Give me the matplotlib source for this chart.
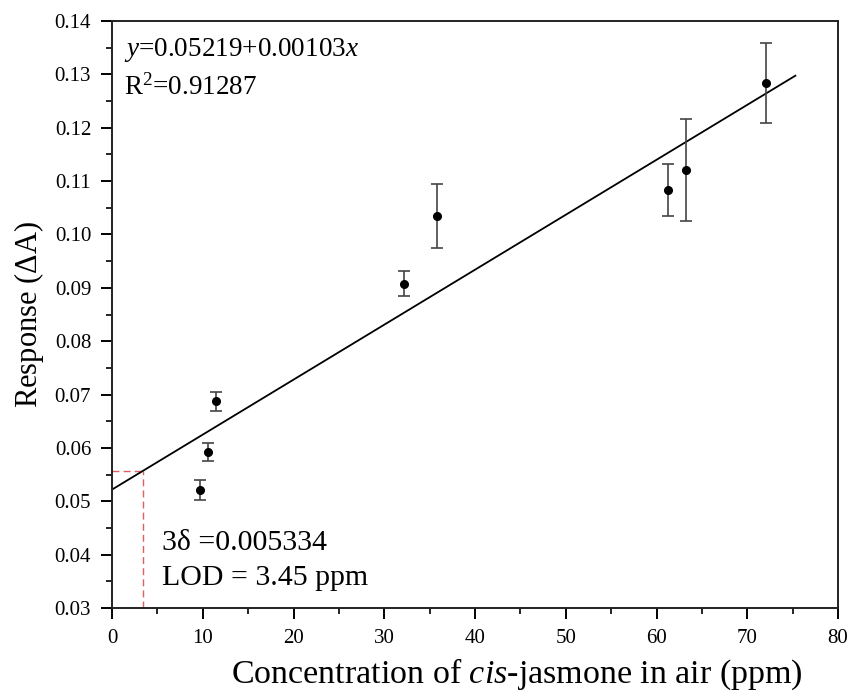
import matplotlib
matplotlib.use("Agg")
import matplotlib.pyplot as plt
import numpy as np
from matplotlib.ticker import MultipleLocator

plt.rcParams['font.family'] = ['Liberation Serif', 'DejaVu Serif']
plt.rcParams['mathtext.fontset'] = 'custom'
plt.rcParams['mathtext.rm'] = 'Liberation Serif'
plt.rcParams['mathtext.it'] = 'Liberation Serif:italic'

# Measured responses of cis-jasmone in air
conc = [9.7, 10.6, 11.5, 32.2, 35.8, 61.3, 63.2, 72.1]
response = [0.0521, 0.0592, 0.0687, 0.0908, 0.1035, 0.1083, 0.1121, 0.1283]
error = [0.0018, 0.0017, 0.0017, 0.0024, 0.0060, 0.0049, 0.0095, 0.0075]

# Linear fit and detection limit
intercept = 0.05219
slope = 0.00103
r_squared = 0.91287
three_delta = 0.005334
lod = 3.45
fit_range = [0.0, 75.3]

fig = plt.figure(figsize=(8.52, 6.96), dpi=100)
ax = fig.add_axes([112/852, 1 - 608/696, (838-112)/852, (608-21)/696])

ax.errorbar(conc, response, yerr=error, fmt='o', color='black', ms=5.5,
            ecolor='#444444', elinewidth=1.2, capsize=4.5, capthick=1.2, zorder=3)

xf = np.array(fit_range)
ax.plot(xf, intercept + slope * xf, color='black', lw=1.3, zorder=2)

y_lod = intercept + slope * lod
ax.plot([0, lod], [y_lod, y_lod], color='#e06060', lw=1, ls=(0, (5, 3)), zorder=1)
ax.plot([lod, lod], [0.03, y_lod], color='#e06060', lw=1, ls=(0, (5, 3)), zorder=1)

ax.set_xlim(0, 80)
ax.set_ylim(0.03, 0.14)
ax.xaxis.set_major_locator(MultipleLocator(10))
ax.xaxis.set_minor_locator(MultipleLocator(5))
ax.yaxis.set_major_locator(MultipleLocator(0.01))
ax.yaxis.set_minor_locator(MultipleLocator(0.005))
ax.yaxis.set_major_formatter(plt.FuncFormatter(lambda v, p: f"{v:.2f}"))

ax.tick_params(which='major', direction='out', length=8, width=1.4, labelsize=15, colors='black')
ax.tick_params(which='minor', direction='out', length=4, width=1.2)
ax.tick_params(axis='x', which='major', pad=7)
ax.tick_params(axis='y', which='major', pad=7)
for s in ax.spines.values():
    s.set_linewidth(1.4)
    s.set_color('#222222')

ax.set_xlabel(r'Concentration of $\it{cis}$-jasmone in air (ppm)', fontsize=24.5,
              labelpad=6, x=0.558, ha='center')
ax.set_ylabel(r'Response ($\Delta$A)', fontsize=22, labelpad=6)

ax.text(0.017, 0.940, r'$y$=%.5f+%.5f$x$' % (intercept, slope), transform=ax.transAxes,
        fontsize=19.5, va='baseline', ha='left')
ax.text(0.017, 0.874, r'R$^2$=%.5f' % r_squared, transform=ax.transAxes,
        fontsize=19.5, va='baseline', ha='left')
ax.text(0.069, 0.099, '3\u03b4 =%.6f' % three_delta, transform=ax.transAxes,
        fontsize=21.5, va='baseline', ha='left')
ax.text(0.069, 0.039, 'LOD = %.2f ppm' % lod, transform=ax.transAxes,
        fontsize=21.5, va='baseline', ha='left')

fig.savefig('out.png', dpi=100)
